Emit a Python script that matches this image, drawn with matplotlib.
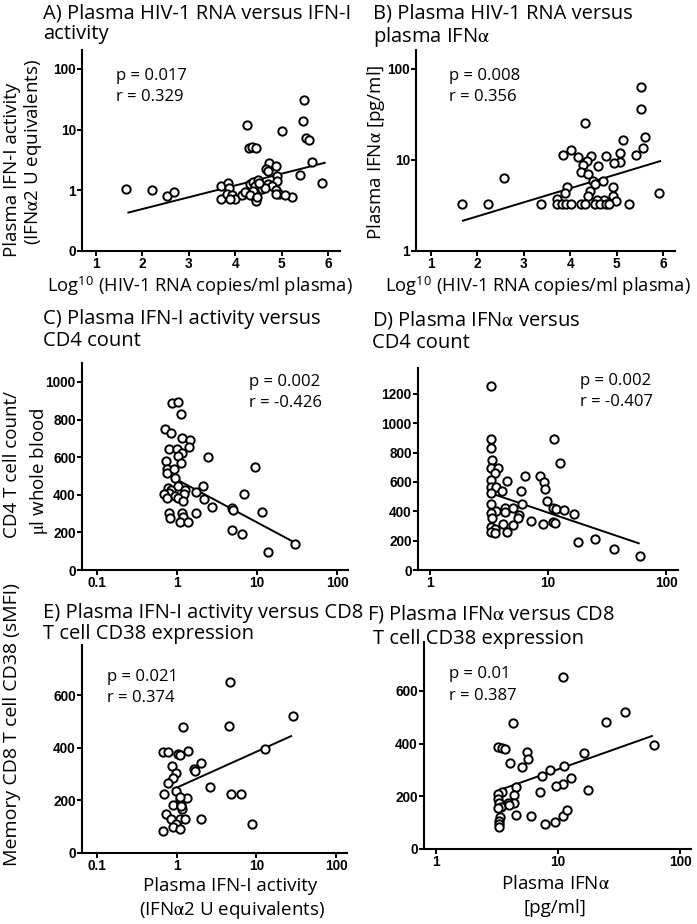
import matplotlib
matplotlib.use("Agg")
import matplotlib.pyplot as plt
from matplotlib.ticker import FixedLocator, FixedFormatter, NullLocator

plt.rcParams['font.family'] = ['Open Sans', 'DejaVu Sans']
plt.rcParams['mathtext.fontset'] = 'stix'

# ---------------- data ----------------
# A) log10 HIV-1 RNA vs plasma IFN-I activity
a_x = [1.65, 2.21, 2.54, 2.68, 4.25, 4.30, 4.37, 4.45, 5.48, 5.47, 5.53, 5.60, 5.02,
       5.65, 5.39, 5.88, 5.22, 4.73, 4.89, 4.66, 4.71, 4.91, 4.90, 3.69, 3.85, 3.87,
       3.69, 3.82, 3.94, 4.00, 3.89, 4.15, 4.21, 4.32, 4.39, 4.50, 4.43, 4.57, 4.38,
       4.32, 4.45, 4.46, 4.71, 4.79, 4.88, 4.94, 5.07, 4.89, 4.64, 4.52, 4.47]
a_y = [1.04, 1.02, 0.82, 0.95, 11.8, 5.0, 5.1, 5.0, 30.6, 14.0, 7.2, 6.8, 9.6,
       2.9, 1.8, 1.3, 0.78, 2.8, 2.5, 2.25, 2.05, 1.75, 1.45, 1.2, 1.3, 1.1,
       0.71, 0.88, 0.84, 0.71, 0.71, 0.84, 0.95, 1.25, 1.39, 1.5, 1.18, 1.04, 0.97,
       0.84, 0.73, 0.67, 1.25, 1.18, 1.0, 0.86, 0.84, 0.88, 1.1, 1.3, 0.78]
a_fit_x = [1.70, 5.93]
a_fit_y = [0.43, 2.84]

# B) log10 HIV-1 RNA vs plasma IFNa (pg/ml)
b_x = [1.67, 2.24, 2.57, 3.38, 4.33, 5.52, 5.53, 5.62, 5.14, 5.58, 5.43, 5.91, 5.27,
       4.01, 3.85, 4.18, 4.45, 4.77, 5.07, 5.07, 4.94, 4.36, 4.28, 4.61, 4.24, 4.39,
       4.50, 4.70, 4.54, 3.94, 4.93, 3.89, 4.43, 4.93, 4.39, 4.99, 4.73, 4.59, 3.71,
       3.72, 3.83, 3.92, 4.01, 4.23, 4.32, 4.53, 4.64, 4.77, 4.84]
b_y = [3.28, 3.28, 6.3, 3.28, 25.3, 62.6, 36.0, 17.8, 16.6, 13.5, 11.4, 4.3, 3.28,
       12.7, 11.3, 10.9, 11.0, 11.1, 11.9, 9.6, 9.2, 9.8, 8.8, 8.6, 7.4, 7.0,
       5.8, 5.9, 5.5, 5.05, 5.05, 4.3, 4.56, 4.05, 4.05, 3.57, 3.64, 3.64, 3.7,
       3.28, 3.28, 3.28, 3.28, 3.28, 3.28, 3.28, 3.28, 3.28, 3.28]
b_fit_x = [1.69, 5.94]
b_fit_y = [2.15, 9.7]

# C) plasma IFN-I activity vs CD4 count
c_x = [0.87, 1.02, 1.12, 0.71, 0.83, 1.14, 1.45, 1.42, 0.79, 1.01, 1.14, 1.04, 2.46,
       0.72, 1.11, 0.74, 0.74, 0.93, 0.94, 2.13, 0.78, 0.84, 0.80, 1.02, 1.26, 1.23,
       0.69, 0.94, 0.74, 1.04, 1.20, 1.73, 2.17, 2.77, 4.9, 5.0, 6.9, 0.79, 0.82,
       1.14, 1.20, 1.09, 1.36, 1.73, 4.8, 6.4, 9.4, 11.7, 13.8, 29.9]
c_y = [887, 894, 828, 750, 730, 700, 691, 656, 642, 642, 621, 606, 603,
       580, 571, 536, 514, 536, 488, 447, 434, 426, 411, 447, 426, 404,
       404, 394, 381, 381, 369, 416, 376, 337, 328, 319, 406, 305, 275,
       305, 284, 254, 254, 305, 213, 191, 550, 307, 94, 138]
c_fit_x = [0.9, 29.9]
c_fit_y = [491, 145]

# D) plasma IFNa vs CD4 count
d_x = [3.31, 3.31, 3.31, 3.35, 3.30, 3.76, 3.54, 3.30, 4.52, 6.33, 8.5, 9.3, 9.5,
       11.2, 12.6, 3.30, 3.64, 4.10, 5.93, 3.31, 3.30, 6.06, 3.64, 4.30, 4.30, 5.0,
       5.65, 5.55, 3.31, 3.35, 9.8, 10.9, 11.6, 13.5, 16.5, 10.9, 11.4, 9.1, 7.2,
       5.0, 4.15, 3.31, 3.54, 3.31, 3.58, 4.52, 17.8, 25.0, 36.0, 60.0]
d_y = [1256, 893, 829, 750, 693, 697, 659, 613, 609, 643, 643, 602, 552,
       891, 731, 568, 568, 541, 541, 523, 448, 448, 402, 425, 398, 425,
       375, 352, 386, 352, 470, 425, 416, 409, 382, 330, 318, 314, 334,
       307, 311, 295, 280, 261, 250, 257, 189, 211, 141, 95]
d_fit_x = [3.27, 58.6]
d_fit_y = [523, 182]

# E) plasma IFN-I activity vs memory CD8 T cell CD38
e_x = [4.7, 4.6, 28.5, 13.0, 1.2, 0.67, 0.78, 1.04, 1.09, 1.38, 0.88, 2.03, 1.63,
       1.68, 0.97, 0.90, 0.78, 2.6, 0.69, 0.97, 4.8, 6.4, 1.09, 1.36, 0.90, 1.14,
       1.18, 0.74, 0.84, 1.09, 1.28, 2.0, 8.8, 0.99, 0.90, 1.09, 0.67, 1.15, 1.11]
e_y = [651, 484, 520, 395, 480, 385, 385, 376, 372, 387, 330, 343, 318,
       312, 302, 283, 267, 249, 223, 235, 223, 224, 201, 207, 182, 182,
       169, 150, 131, 131, 131, 129, 109, 112, 97, 91, 84, 178, 211]
e_fit_x = [0.9, 27.3]
e_fit_y = [242, 444]

# F) plasma IFNa vs memory CD8 T cell CD38
f_x = [11.0, 4.27, 24.9, 35.5, 61.0, 16.3, 3.22, 3.47, 3.66, 5.56, 5.68, 4.06, 5.06,
       8.6, 7.4, 11.3, 12.7, 11.0, 9.7, 17.6, 7.1, 3.47, 3.25, 3.22, 3.28, 4.5,
       4.36, 4.36, 3.9, 3.43, 3.22, 3.33, 3.3, 3.3, 3.3, 4.55, 6.0, 7.8, 9.5, 11.0,
       11.9, 3.99]
f_y = [652, 480, 481, 521, 395, 363, 386, 382, 379, 369, 342, 328, 310,
       300, 278, 316, 268, 247, 240, 224, 218, 218, 210, 190, 175, 236,
       205, 176, 173, 160, 155, 123, 108, 94, 85, 129, 127, 95, 101, 126,
       148, 167]
f_fit_x = [3.33, 58.9]
f_fit_y = [224, 429]

# ---------------- figure ----------------
W, H = 697, 924
fig = plt.figure(figsize=(W / 100, H / 100), dpi=100)


def rect(l, t, r, b):
    return [l / W, 1 - b / H, (r - l) / W, (b - t) / H]


def px(x, y):
    return x / W, 1 - y / H


TICKFAM = ['Liberation Sans', 'DejaVu Sans']


def style(ax):
    for s in ['top', 'right']:
        ax.spines[s].set_visible(False)
    for s in ['left', 'bottom']:
        ax.spines[s].set_linewidth(1.5)
    ax.tick_params(direction='out', length=3.5, width=1.4, pad=1.0, color='black',
                   labelsize=9.8)
    for lab in ax.get_xticklabels() + ax.get_yticklabels():
        lab.set_fontfamily(TICKFAM)
        lab.set_fontweight('bold')


def scatter(ax, x, y, fx, fy):
    ax.plot(x, y, linestyle='none', marker='o', ms=6, mfc='white', mec='black',
            mew=1.4, zorder=3, clip_on=False)
    ax.plot(fx, fy, color='black', lw=1.4, zorder=2)


def set_ticks(ax, axis, vals, labels):
    a = ax.xaxis if axis == 'x' else ax.yaxis
    a.set_major_locator(FixedLocator(vals))
    a.set_major_formatter(FixedFormatter(labels))
    a.set_minor_locator(NullLocator())


TS = 14.5   # title size
AS = 12     # annotation size
LS = 13.5   # axis label size
XS = 13.2   # x label size (panel A/B)
LSP = 1.1   # title line spacing

# Panel A
axA = fig.add_axes(rect(82, 50, 340, 251))
scatter(axA, a_x, a_y, a_fit_x, a_fit_y)
axA.set_yscale('log')
axA.set_xlim(0.7, 6.26)
axA.set_ylim(0.1, 205)
set_ticks(axA, 'x', [1, 2, 3, 4, 5, 6], ['1', '2', '3', '4', '5', '6'])
set_ticks(axA, 'y', [0.1, 1, 10, 100], ['0', '1', '10', '100'])
style(axA)

# Panel B
axB = fig.add_axes(rect(416, 50, 675, 251))
scatter(axB, b_x, b_y, b_fit_x, b_fit_y)
axB.set_yscale('log')
axB.set_xlim(0.68, 6.26)
axB.set_ylim(1, 161)
set_ticks(axB, 'x', [1, 2, 3, 4, 5, 6], ['1', '2', '3', '4', '5', '6'])
set_ticks(axB, 'y', [1, 10, 100], ['1', '10', '100'])
style(axB)

# Panel C
axC = fig.add_axes(rect(82, 363, 348, 570))
scatter(axC, c_x, c_y, c_fit_x, c_fit_y)
axC.set_xscale('log')
axC.set_xlim(0.065, 137)
axC.set_ylim(0, 1101)
set_ticks(axC, 'x', [0.1, 1, 10, 100], ['0.1', '1', '10', '100'])
set_ticks(axC, 'y', [0, 200, 400, 600, 800, 1000], ['0', '200', '400', '600', '800', '1000'])
style(axC)

# Panel D
axD = fig.add_axes(rect(418, 368, 678, 570))
scatter(axD, d_x, d_y, d_fit_x, d_fit_y)
axD.set_xscale('log')
axD.set_xlim(0.79, 126)
axD.set_ylim(0, 1377)
set_ticks(axD, 'x', [1, 10, 100], ['1', '10', '100'])
set_ticks(axD, 'y', [0, 200, 400, 600, 800, 1000, 1200],
          ['0', '200', '400', '600', '800', '1000', '1200'])
style(axD)

# Panel E
axE = fig.add_axes(rect(82, 645, 347, 853))
scatter(axE, e_x, e_y, e_fit_x, e_fit_y)
axE.set_xscale('log')
axE.set_xlim(0.065, 137)
axE.set_ylim(0, 790)
set_ticks(axE, 'x', [0.1, 1, 10, 100], ['0.1', '1', '10', '100'])
set_ticks(axE, 'y', [0, 200, 400, 600], ['0', '200', '400', '600'])
style(axE)

# Panel F
axF = fig.add_axes(rect(424, 642, 691, 849))
scatter(axF, f_x, f_y, f_fit_x, f_fit_y)
axF.set_xscale('log')
axF.set_xlim(0.8, 123)
axF.set_ylim(0, 786)
set_ticks(axF, 'x', [1, 10, 100], ['1', '10', '100'])
set_ticks(axF, 'y', [0, 200, 400, 600], ['0', '200', '400', '600'])
style(axF)

# ---------------- texts ----------------
def T(x, y, s, size, **kw):
    X, Y = px(x, y)
    fig.text(X, Y, s, fontsize=size, **kw)

alpha = r'$\mathrm{\alpha}$'

# titles
T(43, 3, 'A) Plasma HIV-1 RNA versus IFN-I\nactivity', TS, va='top', ha='left', linespacing=LSP)
T(373, 3, 'B) Plasma HIV-1 RNA versus\nplasma IFN' + alpha, TS, va='top', ha='left', linespacing=LSP)
T(43, 309, 'C) Plasma IFN-I activity versus\nCD4 count', TS, va='top', ha='left', linespacing=LSP)
T(372, 309, 'D) Plasma IFN' + alpha + ' versus\nCD4 count', TS, va='top', ha='left', linespacing=LSP)
T(43, 603, 'E) Plasma IFN-I activity versus CD8\nT cell CD38 expression', TS, va='top', ha='left',
  linespacing=LSP)
T(367, 603, 'F) Plasma IFN' + alpha + ' versus CD8', TS, va='top', ha='left')
T(373, 629, 'T cell CD38 expression', TS, va='top', ha='left')

# annotations
T(116, 76, 'p = 0.017', AS, va='center', ha='left')
T(116, 97, 'r = 0.329', AS, va='center', ha='left')
T(449, 76, 'p = 0.008', AS, va='center', ha='left')
T(449, 97, 'r = 0.356', AS, va='center', ha='left')
T(249, 382, 'p = 0.002', AS, va='center', ha='left')
T(249, 403, 'r = -0.426', AS, va='center', ha='left')
T(580, 381, 'p = 0.002', AS, va='center', ha='left')
T(580, 402, 'r = -0.407', AS, va='center', ha='left')
T(107, 677, 'p = 0.021', AS, va='center', ha='left')
T(107, 698, 'r = 0.374', AS, va='center', ha='left')
T(449, 674, 'p = 0.01', AS, va='center', ha='left')
T(449, 696, 'r = 0.387', AS, va='center', ha='left')

# axis labels
logl = r'Log$^{\mathregular{10}}$ (HIV-1 RNA copies/ml plasma)'
T(200, 286, logl, XS, va='center', ha='center')
T(538, 286, logl, XS, va='center', ha='center')
T(12, 170, 'Plasma IFN-I activity', LS, va='center', ha='center', rotation=90)
T(33, 152, '(IFN' + alpha + '2 U equivalents)', LS, va='center', ha='center', rotation=90)
T(376, 152, 'Plasma IFN' + alpha + ' [pg/ml]', LS, va='center', ha='center', rotation=90)
T(12, 464, 'CD4 T cell count/', LS, va='center', ha='center', rotation=90)
T(39, 471, r'$\mathrm{\mu}$l whole blood', LS, va='center', ha='center', rotation=90)
T(12, 725, 'Memory CD8 T cell CD38 (sMFI)', 14, va='center', ha='center', rotation=90)
T(230, 886, 'Plasma IFN-I activity', LS, va='center', ha='center')
T(232, 910, '(IFN' + alpha + '2 U equivalents)', LS, va='center', ha='center')
T(555, 884, 'Plasma IFN' + alpha, LS, va='center', ha='center')
T(555, 908, '[pg/ml]', LS, va='center', ha='center')

fig.savefig('out.png', dpi=100)
